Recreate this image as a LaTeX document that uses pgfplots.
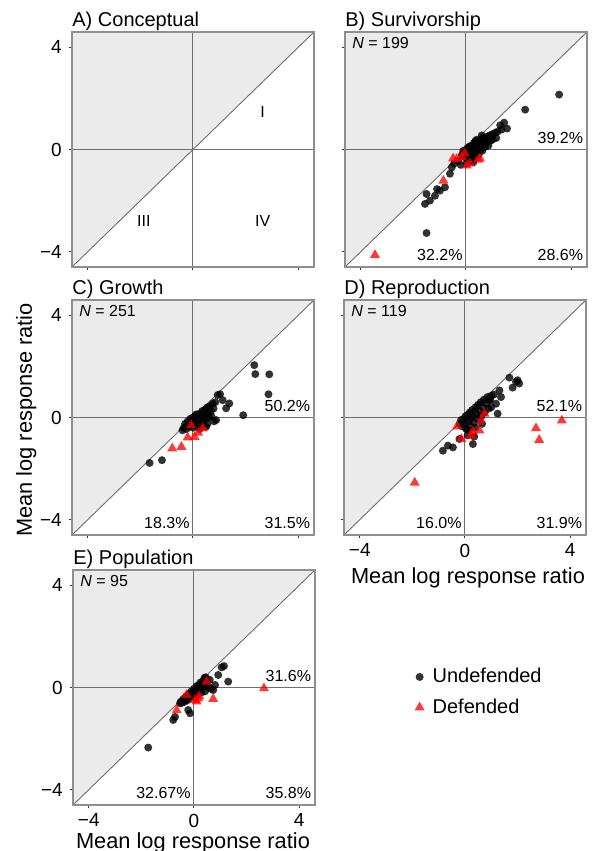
\documentclass[border=0pt]{standalone}
\usepackage{fontspec}
\setmainfont{Liberation Sans}
\usepackage{pgfplots}
\pgfplotsset{compat=1.18}
\definecolor{shade}{HTML}{EBEBEB}
\definecolor{refline}{HTML}{6E6E6E}
\definecolor{boxc}{HTML}{8F8F8F}
\pgfplotsset{
  panel/.style={
    scale only axis, width=121pt, height=117.5pt,
    anchor=north west,
    xmin=-4.6,xmax=4.6,ymin=-4.6,ymax=4.6,
    xtick={-4,0,4}, ytick={-4,0,4},
    xtick pos=left, ytick pos=left,
    tick align=outside,
    major tick length=1.6pt,
    every tick/.style={black!80, line width=0.5pt},
    axis line style={boxc, line width=0.6pt},
    axis on top,
    tick label style={font=\fontsize{9.5}{10}\selectfont},
    xticklabel style={inner sep=1pt, yshift=-1.6pt},
    xticklabels={}, yticklabels={},
    clip=false,
    every axis title shift=0pt,
    title style={at={(0,1)}, anchor=base west, yshift=3pt, inner sep=0pt, font=\fontsize{10}{12}\selectfont},
  },
  withxlabels/.style={xticklabels={−4,0,4}},
  withylabels/.style={yticklabels={−4,0,4}},
  undef/.style={only marks, mark=*, mark size=2pt, color=black,
     mark options={solid, fill=black, draw=black, fill opacity=0.8, draw opacity=0},
     legend image code/.code={\draw[##1] plot coordinates {(0pt,0pt)};}},
  def/.style={only marks, mark=triangle*, mark size=2.9pt, color=red,
     mark options={solid, fill=red, draw=red, fill opacity=0.78, draw opacity=0},
     legend image code/.code={\draw[##1] plot coordinates {(0pt,0pt)};}},
}
\newcommand{\panelbg}{%
  \addplot[draw=none, fill=shade, forget plot] coordinates {(-4.6,-4.6) (4.6,4.6) (-4.6,4.6)};
  \addplot[refline, line width=0.45pt, forget plot] coordinates {(-4.6,-4.6) (4.6,4.6)};
  \addplot[refline, line width=0.5pt, forget plot] coordinates {(0,-4.6) (0,4.6)};
  \addplot[refline, line width=0.5pt, forget plot] coordinates {(-4.6,0) (4.6,0)};
}
\newcommand{\pct}[4]{%
  \node[anchor=base west, xshift=3.5pt, yshift=-8pt, inner sep=0pt, font=\fontsize{8}{9}\selectfont] at (rel axis cs:0,1) {\textit{N} = #1};
  \node[anchor=base east, xshift=-1.8pt, yshift=2.8pt, inner sep=0pt, font=\fontsize{8}{9}\selectfont] at (axis cs:4.6,0) {#2};
  \node[anchor=base east, xshift=-1.5pt, yshift=3.5pt, inner sep=0pt, font=\fontsize{8}{9}\selectfont] at (axis cs:0,-4.6) {#3};
  \node[anchor=base east, xshift=-1.8pt, yshift=3.5pt, inner sep=0pt, font=\fontsize{8}{9}\selectfont] at (axis cs:4.6,-4.6) {#4};
}
\begin{document}
\begin{tikzpicture}
\path[use as bounding box] (0,0) rectangle (295.5pt,-425.5pt);

% A) Conceptual
\begin{axis}[panel, withylabels, at={(36pt,-16pt)}, title={A) Conceptual}]
\panelbg
\node[font=\fontsize{8}{9}\selectfont] at (axis cs:2.65,1.45) {I};
\node[font=\fontsize{8}{9}\selectfont] at (axis cs:-1.87,-2.81) {III};
\node[font=\fontsize{8}{9}\selectfont] at (axis cs:2.65,-2.81) {IV};
\end{axis}

% B) Survivorship
\begin{axis}[panel, at={(172.5pt,-16pt)}, title={B) Survivorship}]
\panelbg
\addplot[undef] coordinates {
(3.54,2.15) (2.25,1.56) (1.45,1.05) (1.30,0.95) (1.56,0.82) (1.35,0.78) (1.20,0.70)
(-0.54,-0.70) (-0.61,-0.95) (-0.80,-1.48) (-0.99,-1.61) (-1.18,-1.81) (-1.37,-2.00)
(-1.56,-2.13) (-1.50,-1.74) (-1.10,-1.55) (-0.30,-0.45) (-0.45,-0.55) (-0.20,-0.60) (-1.50,-3.27)
(-0.15,-0.20) (-0.10,-0.05) (-0.05,-0.30) (0.00,-0.10) (0.05,0.05) (0.05,-0.35) (0.10,-0.20)
(0.12,0.10) (0.15,-0.05) (0.18,-0.45) (0.20,0.15) (0.22,-0.25) (0.25,0.00) (0.28,-0.15)
(0.30,0.25) (0.32,0.05) (0.35,-0.35) (0.38,0.15) (0.40,-0.10) (0.42,0.30) (0.45,0.05)
(0.48,-0.20) (0.50,0.35) (0.52,0.15) (0.55,0.00) (0.58,0.40) (0.60,0.20) (0.62,-0.05)
(0.65,0.30) (0.70,0.45) (0.72,0.10) (0.75,0.25) (0.80,0.50) (0.82,0.30) (0.85,0.15)
(0.90,0.55) (0.95,0.35) (1.00,0.60) (1.02,0.40) (1.10,0.65) (1.15,0.45) (0.35,0.32)
(0.15,0.12) (0.02,-0.55) (0.28,-0.50) (0.40,0.38) (0.60,0.55)
};
\addplot[def] coordinates {
(-3.46,-4.13) (-0.86,-1.22) (-0.49,-0.35) (-0.16,-0.30) (0.03,-0.63) (0.53,-0.35)
(-0.35,-0.37) (0.47,-0.40) (-0.05,-0.15) (0.15,-0.55)
};
\pct{199}{39.2\%}{32.2\%}{28.6\%}
\end{axis}

% C) Growth
\begin{axis}[panel, withylabels, at={(36pt,-150pt)}, title={C) Growth}]
\panelbg
\addplot[undef] coordinates {
(2.33,2.05) (2.37,1.70) (2.90,1.69) (2.87,0.91) (1.91,0.09) (1.03,0.91) (1.38,0.55)
(1.13,0.68) (1.26,0.36) (0.88,-0.10) (0.94,0.88) (0.50,-0.36) (-1.65,-1.78) (-1.18,-1.67)
(-0.35,-0.40) (-0.30,-0.25) (-0.25,-0.45) (-0.20,-0.15) (-0.15,-0.35) (-0.10,-0.05)
(-0.05,-0.25) (0.00,0.00) (0.00,-0.40) (0.05,-0.15) (0.08,0.05) (0.10,-0.30) (0.15,0.10)
(0.18,-0.10) (0.20,-0.35) (0.25,0.15) (0.28,0.00) (0.30,-0.25) (0.35,0.25) (0.38,0.05)
(0.40,-0.15) (0.45,0.30) (0.48,0.12) (0.50,-0.05) (0.55,0.40) (0.58,0.20) (0.60,0.00)
(0.65,0.45) (0.68,0.25) (0.70,0.05) (0.75,0.55) (0.78,0.35) (0.80,-0.15) (0.55,-0.25)
(0.85,0.60) (0.25,-0.45) (0.12,0.12) (-0.40,-0.50)
};
\addplot[def] coordinates {
(-0.79,-1.21) (-0.44,-1.15) (-0.20,-0.78) (0.06,-0.76) (0.37,-0.43) (-0.07,-0.30) (0.20,-0.60)
};
\pct{251}{50.2\%}{18.3\%}{31.5\%}
\end{axis}

% D) Reproduction
\begin{axis}[panel, withxlabels, at={(172pt,-150pt)}, title={D) Reproduction}]
\panelbg
\addplot[undef] coordinates {
(1.69,1.56) (2.00,1.46) (1.81,1.17) (2.06,1.33) (1.94,1.40) (1.31,1.06) (1.37,0.80)
(1.24,0.15) (0.93,0.67) (1.18,0.54) (1.10,0.90) (1.00,0.40) (-0.84,-1.30) (-0.65,-1.10)
(-0.46,-1.17) (0.30,-1.04) (0.35,-0.75) (-0.21,-0.84) (0.10,-0.70)
(-0.20,-0.25) (-0.15,-0.10) (-0.10,-0.35) (-0.05,-0.05) (0.00,-0.25) (0.02,0.05) (0.05,-0.45)
(0.10,0.10) (0.12,-0.15) (0.18,0.20) (0.20,-0.05) (0.22,-0.35) (0.28,0.30) (0.30,0.05)
(0.35,-0.20) (0.40,0.40) (0.42,0.15) (0.48,-0.05) (0.50,0.50) (0.55,0.25) (0.60,0.60)
(0.62,0.05) (0.68,0.40) (0.72,0.70) (0.75,0.20) (0.80,0.55) (0.85,0.80) (0.90,0.35)
(0.95,0.70) (1.00,0.85) (0.15,-0.50) (0.40,-0.40) (0.65,-0.25)
};
\addplot[def] coordinates {
(-1.91,-2.55) (2.70,-0.42) (2.82,-0.88) (3.68,-0.12) (-0.30,-0.35) (-0.14,-0.84)
(0.23,-0.71) (0.55,-0.51) (0.74,0.15) (0.61,-0.12) (0.30,-0.55)
};
\pct{119}{52.1\%}{16.0\%}{31.9\%}
\end{axis}

% E) Population
\begin{axis}[panel, withxlabels, withylabels, at={(36.5pt,-285pt)}, title={E) Population},
  legend style={at={(1.41,0.48)}, anchor=west, draw=none, fill=none, inner sep=0pt,
    font=\fontsize{10}{12}\selectfont, row sep=3.5pt, cells={anchor=west},
    nodes={inner sep=1.5pt},
    /tikz/every odd column/.append style={column sep=2.5pt}}]
\panelbg
\addplot[undef] coordinates {
(1.14,0.84) (1.05,0.79) (0.92,0.49) (1.30,0.23) (0.80,0.10) (0.73,-0.10) (-0.22,-0.88)
(-0.15,-1.01) (-0.79,-1.27) (-0.72,-1.15) (-1.74,-2.35) (-0.53,-0.62)
(-0.50,-0.55) (-0.45,-0.60) (-0.40,-0.45) (-0.35,-0.55) (-0.30,-0.35) (-0.25,-0.50)
(-0.20,-0.25) (-0.15,-0.40) (-0.10,-0.15) (-0.05,-0.30) (0.00,-0.05) (0.00,-0.35)
(0.05,-0.15) (0.10,0.05) (0.12,-0.25) (0.18,0.10) (0.20,-0.10) (0.25,0.20) (0.28,-0.20)
(0.30,0.00) (0.35,0.25) (0.40,0.10) (0.42,-0.15) (0.45,0.40) (0.50,0.20) (0.55,0.00)
(0.60,0.30) (0.65,-0.05) (0.40,0.38)
};
\addlegendentry{Undefended}
\addplot[def] coordinates {
(2.66,-0.03) (0.73,-0.45) (0.16,-0.43) (0.04,-0.49) (-0.28,-0.29) (-0.66,-0.89)
(0.48,0.23) (0.20,-0.35) (0.10,-0.55)
};
\addlegendentry{Defended}
\pct{95}{31.6\%}{32.67\%}{35.8\%}
\end{axis}

% axis labels
\node[rotate=90, anchor=base, inner sep=0pt, font=\fontsize{10.9}{12}\selectfont] at (16pt,-210pt) {Mean log response ratio};
\node[anchor=base, inner sep=0pt, font=\fontsize{10.9}{12}\selectfont] at (234pt,-291.5pt) {Mean log response ratio};
\node[anchor=base, inner sep=0pt, font=\fontsize{10.9}{12}\selectfont] at (96.5pt,-424.3pt) {Mean log response ratio};
\end{tikzpicture}
\end{document}
